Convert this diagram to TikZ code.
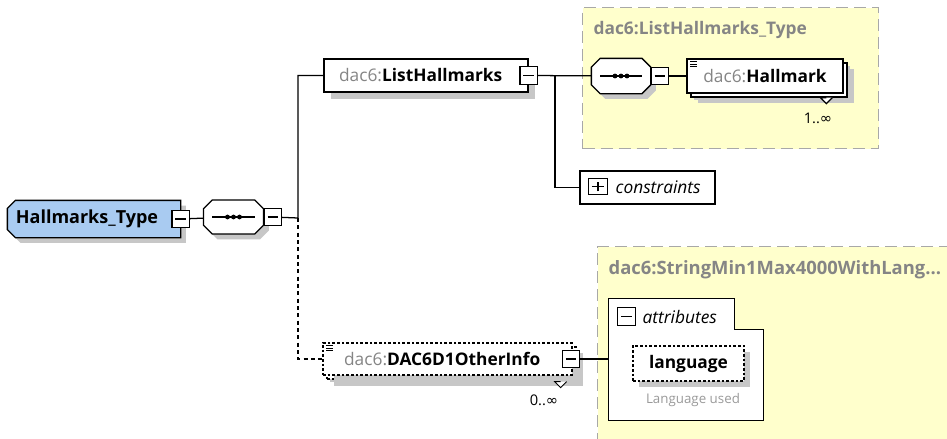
\documentclass[tikz,border=0pt]{standalone}
\usepackage{fontspec}
\setmainfont{Open Sans}
\newfontfamily\symfont{DejaVu Sans}
\usetikzlibrary{shadows,positioning}

\definecolor{rootblue}{HTML}{A9CBF1}
\definecolor{typeyellow}{HTML}{FFFFCC}
\definecolor{typeborder}{HTML}{A8A8A8}
\definecolor{prefixgray}{HTML}{858585}
\definecolor{notegray}{HTML}{9A9A9A}

\newcommand{\nsprefix}{\textcolor{prefixgray}{\mdseries dac6:}}
\newcommand{\inftysym}{{\symfont ∞}}
% octagon round a node: #1 node name, #2 chamfer
\newcommand{\octopath}[2]{([xshift=#2]#1.north west) -- ([xshift=-#2]#1.north east) -- ([yshift=-#2]#1.north east) -- ([yshift=#2]#1.south east) -- ([xshift=-#2]#1.south east) -- ([xshift=#2]#1.south west) -- ([yshift=#2]#1.south west) -- ([yshift=-#2]#1.north west) -- cycle}
% box with the two left corners cut
\newcommand{\leftcutpath}[2]{([xshift=#2]#1.north west) -- (#1.north east) -- (#1.south east) -- ([xshift=#2]#1.south west) -- ([yshift=#2]#1.south west) -- ([yshift=-#2]#1.north west) -- cycle}

\begin{document}
\begin{tikzpicture}[
    x=0.75pt, y=-0.75pt,
    line width=0.95pt,
    elem_node/.style={rectangle, draw, fill=white, minimum height=24.75pt, inner sep=0pt, font=\fontsize{13}{15}\selectfont\bfseries, drop shadow={shadow xshift=5pt, shadow yshift=-5pt, fill=black!22, opacity=1}},
    multi_node/.style={elem_node, drop shadow={shadow xshift=8.5pt, shadow yshift=-7.5pt, fill=black!22, opacity=1}, copy shadow={shadow xshift=3pt, shadow yshift=-3pt, #1}},
    multi_node/.default={},
    hull_node/.style={rectangle, inner sep=0pt},
    shape_shadow/.style={drop shadow={shadow xshift=4pt, shadow yshift=-4pt, fill=black!22, opacity=1}},
    seq_dot/.style={circle, fill=black, inner sep=0pt, minimum size=3.6pt},
    toggle_node/.style={rectangle, draw, fill=white, minimum width=13pt, minimum height=13pt, inner sep=0pt,
        path picture={\draw[line width=0.8pt] ([xshift=2.6pt]path picture bounding box.west) -- ([xshift=-2.6pt]path picture bounding box.east);}},
    plus_node/.style={toggle_node, minimum width=14.5pt, minimum height=12pt,
        path picture={\draw[line width=0.8pt] ([xshift=2.6pt]path picture bounding box.west) -- ([xshift=-2.6pt]path picture bounding box.east);
            \draw[line width=0.8pt] ([yshift=2.4pt]path picture bounding box.south) -- ([yshift=-2.4pt]path picture bounding box.north);}},
    doc_icon/.style={path picture={\foreach \k in {0,1,2} \draw[line width=0.5pt, solid] ([xshift=2.5pt,yshift=-2pt-\k*1.8pt]path picture bounding box.north west) -- ++(5pt,0);}},
    type_box/.style={rectangle, draw=typeborder, fill=typeyellow, line width=1.1pt, dash pattern=on 9pt off 4.5pt, anchor=north west, inner sep=0pt},
    type_label/.style={anchor=west, inner sep=0pt, text=prefixgray, font=\fontsize{13}{15}\selectfont\bfseries},
    card_label/.style={inner sep=0pt, font=\fontsize{11}{13}\selectfont},
    attr_node/.style={rectangle, draw, fill=white, dash pattern=on 2pt off 1.5pt, minimum width=83.25pt, minimum height=26.25pt, inner sep=0pt, font=\fontsize{13}{15}\selectfont\bfseries, drop shadow={shadow xshift=4.5pt, shadow yshift=-4.5pt, fill=black!22, opacity=1}},
    dotted_line/.style={dash pattern=on 3pt off 2.5pt}
]
\useasboundingbox (0,0) rectangle (947,439);

% Type backgrounds
\node[type_box, minimum width=222pt, minimum height=105.75pt] (ytype1) at (582,7) {};
\node[type_box, minimum width=272pt, minimum height=153pt] (ytype2) at (597,246) {};
\node[type_label] (ytype1_label) at ([xshift=8.25pt,yshift=-17.25pt]ytype1.north west) {dac6:ListHallmarks\_Type};
\node[type_label, font=\fontsize{13.8}{15}\selectfont\bfseries] (ytype2_label) at ([xshift=8.25pt,yshift=-18pt]ytype2.north west) {dac6:StringMin1Max4000WithLang...};

% Root and first sequence
\node[hull_node, minimum width=129pt, minimum height=27pt] (root) at (94,219) {};
\draw[fill=rootblue, shape_shadow] \leftcutpath{root}{6pt};
\node[font=\fontsize{13.5}{15}\selectfont\bfseries, inner sep=0pt] (root_text) at (87,218.5) {Hallmarks\_Type};
\node[toggle_node] (root_minus) at (root.east) {};
\node[hull_node, minimum width=44pt, minimum height=24.5pt] (seq1) at (233.5,217) {};
\draw[fill=white, shape_shadow] \octopath{seq1}{6.5pt};
\draw ([xshift=6.5pt]seq1.west) -- ([xshift=-6.5pt]seq1.east);
\foreach \d in {-6,0,6} \node[seq_dot] at ([xshift=\d*0.75pt]seq1.center) {};
\node[toggle_node, right=0pt of seq1] (seq1_minus) {};
\coordinate (branch1) at (298,218);

% Child elements
\node[elem_node, minimum width=153pt] (list) at (426,75.5) {\nsprefix ListHallmarks\hspace*{8pt}};
\node[toggle_node] (list_minus) at (list.east) {};
\coordinate (branch2) at (555,76);

\node[multi_node={dash pattern=on 2pt off 1.5pt}, dash pattern=on 2pt off 1.5pt, minimum width=186.75pt, minimum height=24pt, drop shadow={shadow xshift=8pt, shadow yshift=-8pt, fill=black!22, opacity=1}, doc_icon] (other) at (447.5,359) {\nsprefix DAC6D1OtherInfo\hspace*{8pt}};
\node[toggle_node] (other_minus) at (571,359) {};
\node[card_label] (other_card) at (544,400) {0..\inftysym};

% ListHallmarks_Type content
\node[hull_node, minimum width=43.5pt, minimum height=25.5pt] (seq2) at (621,76) {};
\draw[fill=white, shape_shadow] \octopath{seq2}{6.5pt};
\draw ([xshift=6.5pt]seq2.west) -- ([xshift=-6.5pt]seq2.east);
\foreach \d in {-6,0,6} \node[seq_dot] at ([xshift=\d*0.75pt]seq2.center) {};
\node[toggle_node, right=0pt of seq2] (seq2_minus) {};
\node[multi_node, minimum width=117pt, minimum height=25.5pt, doc_icon] (hallmark) at (765,76) {\nsprefix Hallmark};
\node[card_label] (hallmark_card) at (818,118) {1..\inftysym};

% Constraints
\node[rectangle, draw, fill=white, minimum width=101.25pt, minimum height=24.75pt, inner sep=0pt, font=\fontsize{13}{15}\selectfont] (constraints) at (647.5,187.5) {\hspace*{16pt}\itshape constraints};
\node[plus_node] (constraints_plus) at (598,186.5) {};

% Attributes group
\node[hull_node, minimum width=115.5pt, minimum height=90.75pt] (attrs) at (686,359.5) {};
\draw[fill=white] (attrs.north west) -- ([xshift=-21.75pt]attrs.north east) -- ([xshift=-21.75pt,yshift=-23.25pt]attrs.north east) -- ([yshift=-23.25pt]attrs.north east) -- (attrs.south east) -- (attrs.south west) -- cycle;
\node[toggle_node] (attrs_minus) at (626.5,316.5) {};
\node[anchor=west, inner sep=0pt, font=\fontsize{13}{15}\selectfont\itshape] (attrs_label) at (642,317) {attributes};
\node[attr_node] (language) at (688.5,363.5) {language};
\node[inner sep=0pt, text=notegray, font=\fontsize{10}{12}\selectfont] (language_note) at (693,400) {Language used};

% Multiplicity markers
\draw[fill=white] ([xshift=-13pt,yshift=-3pt]hallmark.south east) -- ++(-4.5pt,0) -- ++(4.5pt,-4.5pt) -- ++(4.5pt,4.5pt);
\draw[fill=white, line width=0.7pt] ([xshift=-9pt,yshift=-4.5pt]other.south east) -- ++(-4.5pt,0) -- ++(4.5pt,-4.5pt) -- ++(4.5pt,4.5pt);

% Connectors
\draw (root_minus) -- (seq1);
\draw (seq1_minus) -- (branch1) |- (list);
\draw[dotted_line] (branch1) |- (other);
\draw (list_minus) -- (seq2);
\draw (branch2) |- (constraints);
\draw (seq2_minus) -- (hallmark);
\draw (other_minus) -- (other_minus -| attrs.west);

\end{tikzpicture}
\end{document}
